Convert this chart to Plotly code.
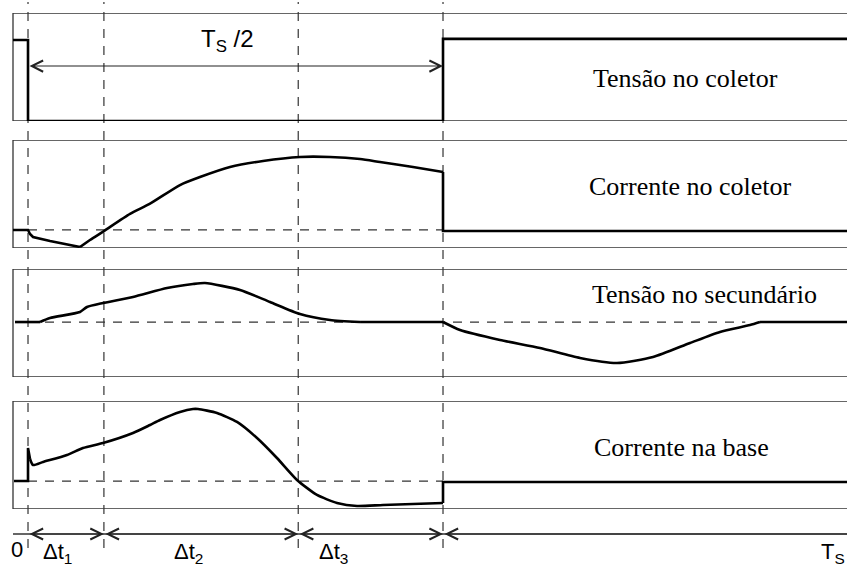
import plotly.graph_objects as go

# ---- key instants (time units, T_S = 100) ----
T_ON = 1.8
T1 = 10.9
T2 = 34.2
T_HALF = 51.56
TS = 100.0

# ---- Tensão no coletor ----
vc_t = [0, T_ON, T_ON, T_HALF, T_HALF, TS]
vc_v = [0.75, 0.75, 0.0, 0.0, 0.76, 0.76]

# ---- Corrente no coletor ----
ic_t = [0, 1.8, 2.04, 2.4, 4.44, 6.24, 8.03, 9.23, 10.91, 14.03, 16.43, 20.02, 22.42,
        26.02, 29.98, 34.41, 38.01, 41.61, 44.0, 47.96, 51.56, 51.56, 100]
ic_v = [0.167, 0.167, 0.13, 0.102, 0.065, 0.037, 0.009, 0.074, 0.157, 0.315, 0.41, 0.583, 0.657,
        0.75, 0.806, 0.843, 0.843, 0.824, 0.796, 0.75, 0.704, 0.157, 0.157]

# ---- Tensão no secundário ----
vs_t = [0.24, 3.24, 4.44, 8.03, 8.87, 10.79, 14.39, 18.47, 21.58, 23.02, 27.22, 30.82, 34.41,
        38.01, 41.61, 51.56, 53.6, 58.39, 63.19, 67.99, 72.42, 76.74, 81.18, 84.77, 88.37, 89.57, 100]
vs_v = [0.509, 0.509, 0.546, 0.602, 0.648, 0.685, 0.741, 0.824, 0.861, 0.87, 0.806, 0.694, 0.583,
        0.528, 0.509, 0.509, 0.435, 0.343, 0.269, 0.176, 0.130, 0.185, 0.315, 0.417, 0.481, 0.509, 0.509]

# ---- Corrente na base ----
ib_t = [0.12, 1.8, 1.8, 2.04, 2.4, 3.6, 6.47, 8.39, 10.79, 14.39, 16.43, 17.63, 20.02, 21.58,
        22.18, 24.46, 26.86, 29.26, 31.65, 34.05, 36.45, 38.85, 41.25, 44.36, 51.56, 51.56, 100]
ib_v = [0.259, 0.259, 0.565, 0.463, 0.407, 0.435, 0.5, 0.565, 0.611, 0.704, 0.778, 0.824, 0.898, 0.926,
        0.926, 0.889, 0.806, 0.657, 0.472, 0.269, 0.130, 0.056, 0.028, 0.037, 0.056, 0.25, 0.25]

# baselines (dashed references)
ic_base = 0.167
vs_base = 0.509
vs_base_end = 87.8
ib_base = 0.259
half_arrow_level = 0.509
time_axis_level = 0.5
time_marks = [T_ON, T1, T2, T_HALF, TS]

panel_labels = ["Tensão no coletor", "Corrente no coletor", "Tensão no secundário", "Corrente na base"]
time_labels = ["0", "Δt<sub>1</sub>", "Δt<sub>2</sub>", "Δt<sub>3</sub>", "T<sub>S</sub>"]

W, H = 847, 568
def py(p):
    return 1 - p / H
def px(p):
    return p / W

fig = go.Figure()
# (times, values, axis, [(start, end, shape), ...]) -- pieces share their end points
series = [
    (vc_t, vc_v, "y", [(0, 5, "linear")]),
    (ic_t, ic_v, "y2", [(0, 6, "linear"), (6, 20, "spline"), (20, 22, "linear")]),
    (vs_t, vs_v, "y3", [(0, 1, "linear"), (1, 14, "spline"), (14, 15, "linear"),
                        (15, 25, "spline"), (25, 26, "linear")]),
    (ib_t, ib_v, "y4", [(0, 3, "linear"), (3, 24, "spline"), (24, 26, "linear")]),
]
for t, v, ax, pieces in series:
    for s, e, shp in pieces:
        fig.add_trace(go.Scatter(x=t[s:e + 1], y=v[s:e + 1], yaxis=ax, xaxis="x", mode="lines",
                                 line=dict(color="black", width=2.6, shape=shp, smoothing=0.6),
                                 hoverinfo="skip", showlegend=False))
# time axis line (its own thin axis strip at the bottom)
fig.add_trace(go.Scatter(x=[0, TS], y=[time_axis_level, time_axis_level], yaxis="y5", xaxis="x",
                         mode="lines", line=dict(color="#333", width=1.3), hoverinfo="skip",
                         showlegend=False))

frame = dict(color="#333", width=1.3)
shapes = []
for yr in ["y", "y2", "y3", "y4"]:
    for lvl in (0, 1):
        shapes.append(dict(type="line", xref="x", yref=yr, x0=0, x1=TS, y0=lvl, y1=lvl,
                           line=frame, layer="below"))
    shapes.append(dict(type="line", xref="x", yref=yr, x0=0, x1=0, y0=0, y1=1, line=frame,
                       layer="below"))

dash = dict(color="#333", width=1.2, dash="9px,8px")
for tv in [T_ON, T1, T2, T_HALF]:
    shapes.append(dict(type="line", xref="x", yref="paper", x0=tv, x1=tv, y0=py(548), y1=py(2),
                       line=dash, layer="below"))
shapes.append(dict(type="line", xref="x", yref="y2", x0=T_ON, x1=T_HALF, y0=ic_base, y1=ic_base,
                   line=dash, layer="below"))
shapes.append(dict(type="line", xref="x", yref="y3", x0=T_ON, x1=vs_base_end, y0=vs_base, y1=vs_base,
                   line=dash, layer="below"))
shapes.append(dict(type="line", xref="x", yref="y4", x0=T_ON, x1=T_HALF, y0=ib_base, y1=ib_base,
                   line=dash, layer="below"))

annotations = []
def dbl_arrow(t0, t1, level, yr, side="end+start"):
    annotations.append(dict(x=t1, y=level, ax=t0, ay=level, xref="x", yref=yr, axref="x", ayref=yr,
                            text="", showarrow=True, arrowside=side, arrowhead=5,
                            startarrowhead=5, arrowsize=2, startarrowsize=2, arrowwidth=1.1,
                            arrowcolor="#222"))

dbl_arrow(T_ON, T_HALF, half_arrow_level, "y")
segs = list(zip(time_marks[:-1], time_marks[1:]))
for i, (a, b) in enumerate(segs):
    dbl_arrow(a, b, time_axis_level, "y5", "start" if i == len(segs) - 1 else "end+start")

serif = dict(family="Liberation Serif, Times New Roman, serif", size=26, color="black")
sans = dict(family="Liberation Sans, Arial, sans-serif", size=22, color="black")
sans_big = dict(family="Liberation Sans, Arial, sans-serif", size=24, color="black")
label_pos = [(685, 79), (690, 187), (704, 294), (681, 448)]
for txt, (xx, yy) in zip(panel_labels, label_pos):
    annotations.append(dict(text=txt, x=px(xx), y=py(yy), xref="paper", yref="paper",
                            showarrow=False, font=serif, xanchor="center", yanchor="middle"))

annotations.append(dict(text="T<sub>S</sub> /2", x=px(227), y=py(41), xref="paper", yref="paper",
                        showarrow=False, font=sans_big, xanchor="center", yanchor="middle"))
time_label_pos = [(17, 549, "center"), (57, 553, "center"), (188, 553, "center"),
                  (333, 553, "center"), (847, 553, "right")]
for txt, (xx, yy, anc) in zip(time_labels, time_label_pos):
    annotations.append(dict(text=txt, x=px(xx), y=py(yy), xref="paper", yref="paper",
                            showarrow=False, font=sans, xanchor=anc, yanchor="middle"))

hidden = dict(visible=False, range=[0, 1], fixedrange=True)
fig.update_layout(
    width=W, height=H, margin=dict(l=0, r=0, t=0, b=0),
    paper_bgcolor="white", plot_bgcolor="white",
    xaxis=dict(visible=False, range=[-13 / 8.34, TS], domain=[0, 1], fixedrange=True),
    yaxis=dict(hidden, domain=[py(121), py(13)], anchor="x"),
    yaxis2=dict(hidden, domain=[py(248), py(140)], anchor="x"),
    yaxis3=dict(hidden, domain=[py(377), py(269)], anchor="x"),
    yaxis4=dict(hidden, domain=[py(509), py(401)], anchor="x"),
    yaxis5=dict(hidden, domain=[py(546), py(522)], anchor="x"),
    shapes=shapes, annotations=annotations, showlegend=False,
)
fig.write_html("out.html", config={"displayModeBar": False},
               post_script="document.body.style.margin='0';document.body.style.overflow='hidden';")
